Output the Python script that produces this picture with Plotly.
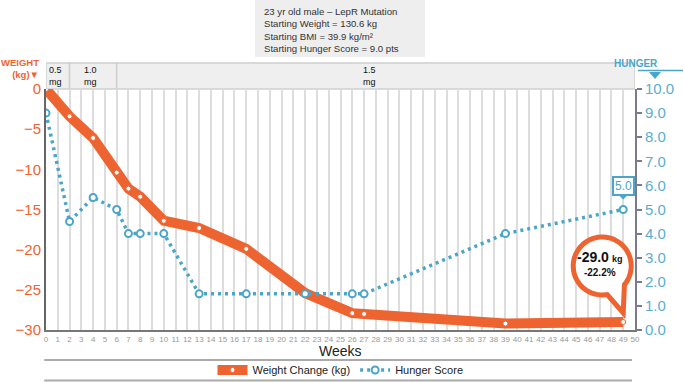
import math
import plotly.graph_objects as go

# ---- data ----
weeks = [0, 2, 4, 6, 7, 8, 10, 13, 17, 22, 26, 27, 39, 49]
weight_change = [0, -3.4, -6.1, -10.4, -12.4, -13.4, -16.4, -17.3, -19.9, -25.4, -27.9, -28.0, -29.2, -29.0]
hunger_score = [9.0, 4.5, 5.5, 5.0, 4.0, 4.0, 4.0, 1.5, 1.5, 1.5, 1.5, 1.5, 4.0, 5.0]
dose_bounds = [0, 2, 6, 50]
dose_labels = ["0.5<br>mg", "1.0<br>mg", "1.5<br>mg"]
info_lines = ["23 yr old male – LepR Mutation", "Starting Weight = 130.6 kg",
              "Starting BMI = 39.9 kg/m²", "Starting Hunger Score = 9.0 pts"]
final_week = weeks[-1]
final_change = weight_change[-1]
final_pct = "-22.2%"
final_hunger = hunger_score[-1]

ORANGE = "#EE6430"
TEAL = "#4BA5C8"
TEAL_LBL = "#5AADCF"
SANS = "Liberation Sans, Arial, sans-serif"

fig = go.Figure()
fig.add_trace(go.Scatter(
    x=weeks, y=weight_change, name="Weight Change (kg)", mode="lines+markers",
    line=dict(color=ORANGE, width=10),
    marker=dict(size=5, color="white", line=dict(color=ORANGE, width=1)),
    yaxis="y"))
fig.add_trace(go.Scatter(
    x=weeks, y=hunger_score, name="Hunger Score", mode="lines+markers",
    line=dict(color=TEAL, width=3.5, dash="3px,4px"),
    marker=dict(size=7, color="white", line=dict(color=TEAL, width=2)),
    yaxis="y2"))

shapes = []
annos = []

# dose band
band_top = 1 + 26 / 241
for i in range(len(dose_labels)):
    shapes.append(dict(type="rect", xref="x", yref="paper", x0=dose_bounds[i], x1=dose_bounds[i + 1],
                       y0=1.0, y1=band_top, fillcolor="#efefef", line=dict(color="#cfcfcf", width=1.5),
                       layer="below"))
label_x = [0.8, 3.8, 27.5]
for lx, lab in zip(label_x, dose_labels):
    annos.append(dict(x=lx, y=(1 + band_top) / 2, xref="x", yref="paper", text=lab, showarrow=False,
                      yanchor="middle", font=dict(size=9, color="#111", family=SANS)))

# info box
shapes.append(dict(type="rect", xref="paper", yref="paper", x0=(255 - 46) / 589, x1=(425 - 46) / 589,
                   y0=(330 - 57) / 241, y1=(330 - 0) / 241, fillcolor="#eeeeee", line=dict(width=0)))
annos.append(dict(x=(262 - 46) / 589, y=(330 - 30.5) / 241, xref="paper", yref="paper", xanchor="left",
                  yanchor="middle", align="left", text="<br>".join(info_lines), showarrow=False,
                  font=dict(size=9.6, color="#333", family=SANS)))

# bottom separator lines
for py in [360, 380.5]:
    shapes.append(dict(type="line", xref="paper", yref="paper", x0=-0.003, x1=0.995,
                       y0=-(py - 330) / 241, y1=-(py - 330) / 241, line=dict(color="#aaaaaa", width=2)))

annos.append(dict(x=0.5, y=-(351 - 330) / 241, xref="paper", yref="paper", text="Weeks", showarrow=False,
                  yanchor="middle", font=dict(size=14, color="#222", family=SANS)))

# axis titles
annos.append(dict(x=0, y=(330 - 68.5) / 241, xref="paper", yref="paper", xanchor="right", yanchor="middle",
                  xshift=-5, align="right", text="<b>WEIGHT</b><br><b>(kg)▼</b>", showarrow=False,
                  font=dict(size=9.5, color=ORANGE, family=SANS)))
annos.append(dict(x=(660 - 46) / 589, y=(330 - 64) / 241, xref="paper", yref="paper", yanchor="middle",
                  text="<b>HUNGER</b>", showarrow=False, font=dict(size=10, color=TEAL, family=SANS)))
shapes.append(dict(type="line", xref="paper", yref="paper", x0=(638 - 46) / 589, x1=(683 - 46) / 589,
                   y0=(330 - 70.5) / 241, y1=(330 - 70.5) / 241, line=dict(color=TEAL, width=1.5)))
shapes.append(dict(type="path", xref="paper", yref="paper", xsizemode="pixel", ysizemode="pixel",
                   xanchor=(655 - 46) / 589, yanchor=(330 - 72) / 241,
                   path="M -6 0 L 6 0 L 0 -7 Z", fillcolor=TEAL, line=dict(width=0)))

# callout bubble for final weight
cx, cy, r = -21, 56, 29
a_start, a_end = -40, 280
pts = []
for k in range(0, 61):
    a = math.radians(a_start + (a_end - a_start) * k / 60)
    pts.append((cx + r * math.cos(a), cy + r * math.sin(a)))
pts.append((0, 9))
path = "M " + " L ".join(f"{px:.1f} {py:.1f}" for px, py in pts) + " Z"
shapes.append(dict(type="path", xref="x", yref="y", xsizemode="pixel", ysizemode="pixel",
                   xanchor=final_week, yanchor=final_change, path=path, fillcolor="white",
                   line=dict(color=ORANGE, width=5)))
annos.append(dict(x=final_week, y=final_change, xref="x", yref="y", xshift=-23, yshift=58,
                  text=(f"<b><span style='font-size:14px'>{final_change:.1f}</span> "
                        f"<span style='font-size:9px'>kg</span></b><br>"
                        f"<b><span style='font-size:10px'>{final_pct}</span></b>"),
                  showarrow=False, font=dict(size=11, color="#111", family=SANS)))

# 5.0 hunger tag
annos.append(dict(x=final_week, y=final_hunger, xref="x", yref="y2", yshift=24,
                  text=f"{final_hunger:.1f}", showarrow=False, bgcolor="white", bordercolor=TEAL,
                  borderwidth=2, borderpad=1, font=dict(size=12, color=TEAL, family=SANS)))
shapes.append(dict(type="path", xref="x", yref="y2", xsizemode="pixel", ysizemode="pixel",
                   xanchor=final_week, yanchor=final_hunger, path="M -5 15 L 5 15 L 0 10 Z",
                   fillcolor=TEAL, line=dict(width=0)))

fig.update_layout(
    width=684, height=382,
    margin=dict(l=46, r=49, t=89, b=52, autoexpand=False),
    paper_bgcolor="white", plot_bgcolor="white",
    showlegend=True,
    legend=dict(orientation="h", x=0.5, xanchor="center", y=-(370 - 330) / 241, yanchor="middle",
                font=dict(size=11, color="#222", family=SANS), bgcolor="rgba(0,0,0,0)"),
    xaxis=dict(range=[0, 50], dtick=1, tick0=0, showgrid=True, gridcolor="#dddddd", gridwidth=1.5,
               showline=True, linecolor="#777", linewidth=2, zeroline=False, ticks="", ticklen=0,
               tickangle=0, automargin=False, tickfont=dict(size=8, color="#999", family=SANS)),
    yaxis=dict(range=[-30, 0], dtick=5, showgrid=False, zeroline=False, showline=True, linecolor="#666",
               linewidth=2, ticks="", ticklen=0, automargin=False,
               tickfont=dict(size=15, color=ORANGE, family=SANS)),
    yaxis2=dict(range=[0, 10], dtick=1, overlaying="y", side="right", showgrid=False, zeroline=False,
                showline=True, linecolor="#7a7a90", linewidth=2, ticks="outside", ticklen=5,
                tickcolor="#7a7a90", tickwidth=2, tickformat=".1f", automargin=False,
                tickfont=dict(size=15, color=TEAL_LBL, family=SANS)),
    shapes=shapes, annotations=annos,
)

fig.write_html("out.html", config={"displayModeBar": False},
               post_script="document.body.style.margin='0';document.body.style.padding='0';")
